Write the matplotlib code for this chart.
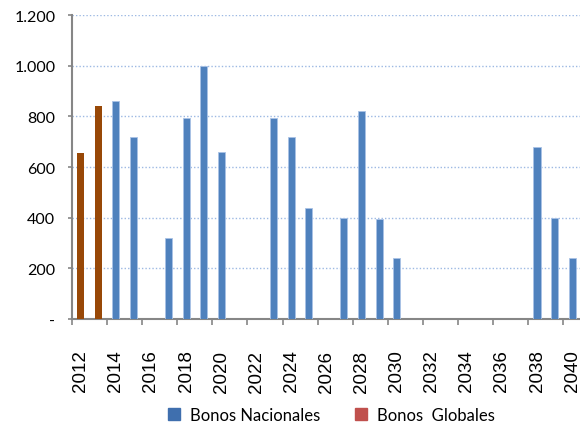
import matplotlib.pyplot as plt
from matplotlib.lines import Line2D
from matplotlib.ticker import FuncFormatter, FixedLocator

# Vencimientos por año (millones)
years = list(range(2012, 2041))
nacionales = [0, 0, 860, 720, 0, 320, 795, 1000, 660, 0, 0, 795, 720, 440, 0,
              400, 820, 395, 240, 0, 0, 0, 0, 0, 0, 0, 680, 400, 240]
globales = [655, 840, 0, 0, 0, 0, 0, 0, 0, 0, 0, 0, 0, 0, 0,
            0, 0, 0, 0, 0, 0, 0, 0, 0, 0, 0, 0, 0, 0]
y_ticks = [0, 200, 400, 600, 800, 1000, 1200]

BLUE = "#4F81BD"
BROWN = "#984807"
GRID = "#9DB9E3"
AXIS = "#868686"


def fmt_miles(v, pos):
    if v == 0:
        return "-"
    return f"{int(v):,}".replace(",", ".")


fig = plt.figure(figsize=(5.8, 4.27), dpi=100)
ax = fig.add_axes([72 / 580, 107 / 427, 508 / 580, 304 / 427])

x = list(range(len(years)))
ax.bar(x, nacionales, width=0.4, color=BLUE, edgecolor="#A9C2E6", linewidth=0.6, zorder=3)
ax.bar(x, globales, width=0.42, color=BROWN, linewidth=0, zorder=3)

ax.set_xlim(-0.5, 28.45)
ax.set_ylim(0, 1200)

ax.yaxis.set_major_locator(FixedLocator(y_ticks))
ax.yaxis.set_major_formatter(FuncFormatter(fmt_miles))
ax.grid(axis="y", color=GRID, linestyle=(0, (1, 1.5)), linewidth=1.0, zorder=0)

even = [i for i in x if years[i] % 2 == 0]
ax.set_xticks(even)
ax.set_xticklabels([str(years[i]) for i in even], rotation=90,
                   fontfamily="Liberation Sans", fontsize=13.5)
ax.set_xticks([i - 0.5 for i in even], minor=True)
ax.tick_params(axis="x", which="major", length=0, pad=22)
ax.tick_params(axis="x", which="minor", length=4, width=1.2, color=AXIS)
ax.tick_params(axis="y", length=3, width=1.2, color=AXIS, pad=9)
for lbl in ax.get_yticklabels():
    lbl.set_fontfamily("Lato")
    lbl.set_fontsize(11.5)

for side in ["top", "right"]:
    ax.spines[side].set_visible(False)
for side in ["left", "bottom"]:
    ax.spines[side].set_color(AXIS)
    ax.spines[side].set_linewidth(1.5)

handles = [
    Line2D([], [], marker="s", linestyle="", markersize=9, color="#3F6FAE"),
    Line2D([], [], marker="s", linestyle="", markersize=9, color="#C0504D"),
]
fig.legend(handles, ["Bonos Nacionales", "Bonos  Globales"], ncol=2,
           loc="center", bbox_to_anchor=(331 / 580, 1 - 416 / 427),
           frameon=False, handlelength=0.8, handletextpad=0.6,
           columnspacing=2.0, prop={"family": "Lato", "size": 12})

fig.savefig("out.png", dpi=100)
